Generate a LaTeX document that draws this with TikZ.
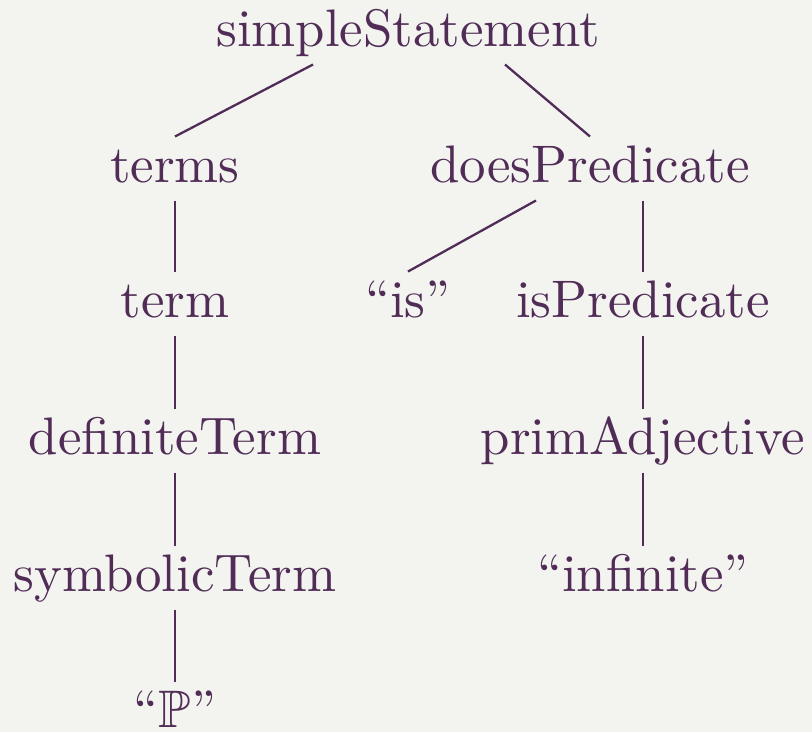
\documentclass[tikz,border=0pt]{standalone}
\usepackage{fontspec}
\setmainfont{lmroman10-regular.otf}
\usepackage{amssymb}
\definecolor{plum}{RGB}{80,44,86}
\definecolor{paper}{RGB}{243,244,240}
\begin{document}
\begin{tikzpicture}[x=1pt,y=1pt,
  lab/.style={anchor=base,inner sep=0pt,text=plum,
    font=\fontsize{52.8}{60}\selectfont},
  branch/.style={draw=plum,line width=2.3pt}]
  % canvas
  \fill[paper] (0,0) rectangle (812,-732);
  \useasboundingbox (0,0) rectangle (812,-732);

  % rows: baselines 46, 182, 317, 454, 591, 727
  \node[lab] (ss)  at (408,-46)  {simpleStatement};
  \node[lab] (trs) at (175,-182) {terms};
  \node[lab] (dp)  at (590,-182) {doesPredicate};
  \node[lab] (trm) at (175,-317) {term};
  \node[lab] (is)  at (408,-317) {“is”};
  \node[lab] (ip)  at (643,-317) {isPredicate};
  \node[lab] (dt)  at (175,-454) {definiteTerm};
  \node[lab] (pa)  at (643,-454) {primAdjective};
  \node[lab] (st)  at (175,-591) {symbolicTerm};
  \node[lab] (inf) at (643,-591) {“infinite”};
  \node[lab] (bbP) at (175,-727) {“$\mathbb{P}$”};

  % branches: from just under the parent to just above the child
  \draw[branch] ([xshift=-95,yshift=-18.5]ss.base) -- ([yshift=45.5]trs.base);
  \draw[branch] ([xshift=97,yshift=-18.5]ss.base)  -- ([yshift=45.5]dp.base);
  \draw[branch] ([yshift=-18.5]trs.base) -- ([yshift=45.5]trm.base);
  \draw[branch] ([xshift=-54,yshift=-18.5]dp.base) -- ([yshift=45.5]is.base);
  \draw[branch] ([xshift=53,yshift=-18.5]dp.base)  -- ([yshift=45.5]ip.base);
  \draw[branch] ([yshift=-18.5]trm.base) -- ([yshift=45.5]dt.base);
  \draw[branch] ([yshift=-18.5]dt.base)  -- ([yshift=45.5]st.base);
  \draw[branch] ([yshift=-18.5]st.base)  -- ([yshift=45.5]bbP.base);
  \draw[branch] ([yshift=-18.5]ip.base)  -- ([yshift=45.5]pa.base);
  \draw[branch] ([yshift=-18.5]pa.base)  -- ([yshift=45.5]inf.base);
\end{tikzpicture}
\end{document}
